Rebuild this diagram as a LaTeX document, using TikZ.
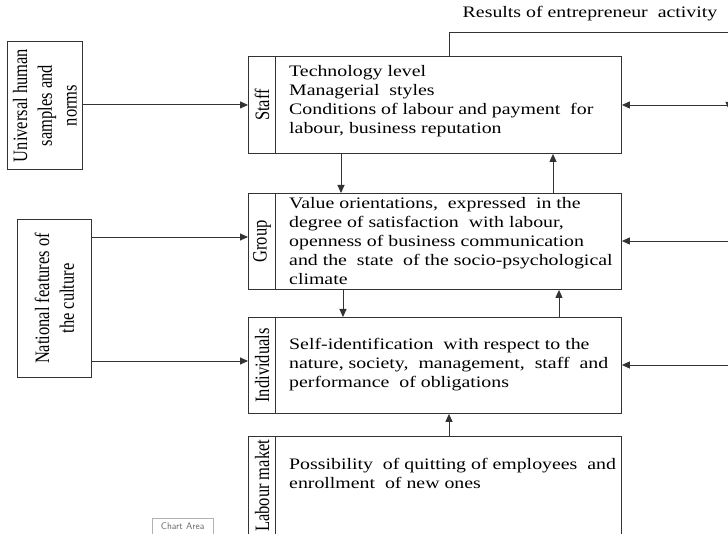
\documentclass[tikz,border=0pt]{standalone}
\usepackage{fontspec}
\setmainfont{Liberation Serif}
\newfontfamily\wide[FakeStretch=1.24]{Liberation Serif}
\usetikzlibrary{arrows.meta,calc}
\definecolor{ln}{HTML}{333333}
\tikzset{
  box/.style={draw=ln, line width=0.9pt, inner sep=0pt, anchor=north west},
  txt/.style={anchor=north west, align=left, inner sep=0pt, font=\wide\fontsize{16}{19}\selectfont},
  vlbl/.style={xscale=1.24, rotate=90, inner sep=0pt, align=center, font=\fontsize{16.5}{20}\selectfont},
  arr/.style={draw=ln, line width=0.9pt, -{Triangle[length=8pt,width=7pt]}},
  ln/.style={draw=ln, line width=0.9pt}
}
\begin{document}
\begin{tikzpicture}[x=1pt,y=-1pt]
\useasboundingbox[fill=white] (0,0) rectangle (728,534);
% left boxes
\node[box, minimum width=75pt, minimum height=128pt] (univ) at (7,41) {};
\node[vlbl] (univt) at (univ.center) {Universal human\\samples and\\norms};
\node[box, minimum width=74pt, minimum height=158pt] (nat) at (17,219) {};
\node[vlbl] (natt) at (nat.center) {National features of\\the culture};
% main boxes
\node[box, minimum width=373pt, minimum height=97pt] (staff) at (248,56) {};
\node[box, minimum width=373pt, minimum height=96pt] (group) at (248,193) {};
\node[box, minimum width=373pt, minimum height=96pt] (ind) at (248,317) {};
\node[box, minimum width=373pt, minimum height=98pt] (lab) at (248,436) {};
\foreach \b in {staff,group,ind,lab}{
  \draw[ln] ([xshift=27pt]\b.north west) -- ([xshift=27pt]\b.south west);
}
\node[vlbl] (stafflbl) at ($(staff.west)+(14,0)$) {Staff};
\node[vlbl] (grouplbl) at ($(group.west)+(14,0)$) {Group};
\node[vlbl] (indlbl) at ($(ind.west)+(14,0)$) {Individuals};
\node[vlbl, anchor=west] (lablbl) at (262,532) {Labour maket};
% texts
\node[txt] (stafftxt) at (289,65) {Technology level\\Managerial\ \ styles\\Conditions of labour and payment\ \ for\\labour, business reputation};
\node[txt] (grouptxt) at (289,197) {Value orientations,\ \ expressed\ \ in the\\degree of satisfaction\ \ with labour,\\openness of business communication\\and the\ \ state\ \ of the socio-psychological\\climate};
\node[txt] (indtxt) at (289,338) {Self-identification\ \ with respect to the\\nature, society,\ \ management,\ \ staff\ \ and\\performance\ \ of obligations};
\node[txt] (labtxt) at (289,458) {Possibility\ \ of quitting of employees\ \ and\\enrollment\ \ of new ones};
% results
\node[inner sep=0pt, font=\wide\fontsize{16}{19}\selectfont] (res) at (590,14) {Results of entrepreneur\ \ activity};
\coordinate (r1) at (449,32);
\coordinate (r2) at (728,32);
\draw[ln] (staff.north -| r1) -- (r1) -- (r2);
% arrows from left
\draw[arr] (univ.east |- staff.west) -- (staff.west);
\draw[arr] (nat.east |- 0,237) -- (group.west |- 0,237);
\draw[arr] (nat.east |- 0,361) -- (ind.west |- 0,361);
% vertical arrows
\draw[arr] (staff.south -| 341,0) -- (group.north -| 341,0);
\draw[arr] (group.north -| 553,0) -- (staff.south -| 553,0);
\draw[arr] (group.south -| 343,0) -- (ind.north -| 343,0);
\draw[arr] (ind.north -| 559,0) -- (group.south -| 559,0);
\draw[arr] (lab.north -| 449,0) -- (ind.south -| 449,0);
% arrows from right
\coordinate (e1) at (728,105);
\coordinate (e2) at (728,241);
\coordinate (e3) at (728,365);
\draw[arr] (e1) -- (staff.east |- e1);
\draw[arr] (e2) -- (group.east |- e2);
\draw[arr] (e3) -- (ind.east |- e3);
\coordinate (t1) at (729,100);
\coordinate (t2) at (729,110);
\draw[arr] (t1) -- (t2);
% chart area tooltip
\node[draw=gray!60, fill=white, inner sep=2pt, minimum width=61pt, minimum height=16pt, anchor=north west, font=\sffamily\fontsize{9.5}{10}\selectfont, text=black!60] (chart) at (152,518) {Chart Area};
\end{tikzpicture}
\end{document}
